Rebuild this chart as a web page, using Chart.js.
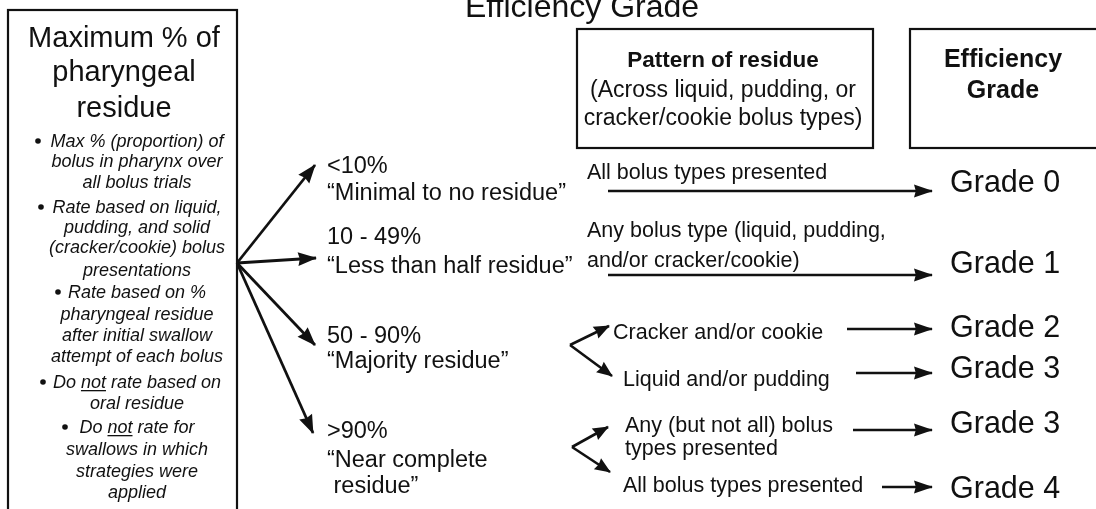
<!DOCTYPE html>
<html>
<head>
<meta charset="utf-8">
<script src="https://cdn.jsdelivr.net/npm/chart.js@4.4.0/dist/chart.umd.min.js"></script>
<style>
  html, body { margin: 0; padding: 0; background: #fff; }
  #wrap { width: 1096px; height: 509px; }
</style>
</head>
<body>
<div id="wrap"><canvas id="flow" width="1096" height="509"></canvas></div>
<script>
// ---- content ----
const title = 'Efficiency Grade';
const headerLines = ['Maximum % of', 'pharyngeal', 'residue'];
// _word_ = underlined
const criteria = [
  ['Max % (proportion) of', 'bolus in pharynx over', 'all bolus trials'],
  ['Rate based on liquid,', 'pudding, and solid', '(cracker/cookie) bolus', 'presentations'],
  ['Rate based on %', 'pharyngeal residue', 'after initial swallow', 'attempt of each bolus'],
  ['Do _not_ rate based on', 'oral residue'],
  ['Do _not_ rate for', 'swallows in which', 'strategies were', 'applied']
];
const levelRanges = ['<10%', '10 - 49%', '50 - 90%', '>90%'];
const levelNames = [
  ['\u201cMinimal to no residue\u201d'],
  ['\u201cLess than half residue\u201d'],
  ['\u201cMajority residue\u201d'],
  ['\u201cNear complete', ' residue\u201d']
];
const patternHeader = ['Pattern of residue', '(Across liquid, pudding, or', 'cracker/cookie bolus types)'];
const gradeHeader = ['Efficiency', 'Grade'];
const patterns = [
  ['All bolus types presented'],
  ['Any bolus type (liquid, pudding,', 'and/or cracker/cookie)'],
  ['Cracker and/or cookie'],
  ['Liquid and/or pudding'],
  ['Any (but not all) bolus', 'types presented'],
  ['All bolus types presented']
];
const patternLevel = [0, 1, 2, 2, 3, 3];
const grades = [0, 1, 2, 3, 3, 4];

// ---- layout (canvas units) ----
const FONT = '"Liberation Sans", Arial, sans-serif';
const INK = '#111';
const layout = {
  title: { x: 582, y: 17 },
  leftBox: [8, 10, 237, 530],
  headerX: 124, headerY: [47, 81, 117],
  critX: 137,
  critBulletX: [35, 38, 55, 40, 62],
  critY: [[147, 167, 188], [213, 233, 253, 276], [298, 320, 341, 362], [388, 409], [433, 455, 477, 498]],
  fanFrom: [237, 263],
  fanTo: [[315, 165], [316, 258], [315, 345], [313, 433]],
  levelX: 327,
  rangeY: [173, 244, 343, 438],
  nameY: [[200], [273], [368], [467, 493]],
  patBox: [577, 29, 873, 148],
  patHeadX: 723, patHeadY: [67, 97, 125],
  gradeBox: [910, 29, 1110, 148],
  gradeHeadX: 1003, gradeHeadY: [67, 98],
  forks: { 2: [570, 345], 3: [572, 447] },
  patX: [587, 587, 613, 623, 625, 623],
  patY: [[179], [237, 267], [339], [386], [432, 455], [492]],
  forkTo: [null, null, [609, 326], [612, 376], [608, 427], [610, 472]],
  arrowFrom: [608, 608, 847, 856, 853, 882],
  arrowY: [191, 275, 329, 373, 430, 487],
  arrowTo: 932,
  gradeX: 950,
  gradeY: [192, 273, 337, 378, 433, 498]
};

// ---- arrows as line datasets ----
const datasets = [];
function arrow(a, b, w, head) {
  datasets.push({
    data: [{ x: a[0], y: a[1] }, { x: b[0], y: b[1] }],
    showLine: true, borderColor: INK, borderWidth: w,
    pointRadius: 0, borderCapStyle: 'butt', head: head
  });
}
layout.fanTo.forEach(t => arrow(layout.fanFrom, t, 2.8, [18, 7]));
patterns.forEach((p, i) => {
  if (layout.forkTo[i]) arrow(layout.forks[patternLevel[i]], layout.forkTo[i], 2.6, [15, 6.5]);
  arrow([layout.arrowFrom[i], layout.arrowY[i]], [layout.arrowTo, layout.arrowY[i]], 2.4, [18, 6.5]);
});

function drawRich(ctx, str, x, y, align) {
  const parts = str.split('_');
  const total = parts.reduce((s, p) => s + ctx.measureText(p).width, 0);
  let cx = align === 'center' ? x - total / 2 : x;
  ctx.textAlign = 'left';
  parts.forEach((p, i) => {
    const w = ctx.measureText(p).width;
    ctx.fillText(p, cx, y);
    if (i % 2 === 1) ctx.fillRect(cx, y + 2, w, 1.3);
    cx += w;
  });
}

const diagramPlugin = {
  id: 'diagram',
  afterDatasetsDraw(chart) {
    const ctx = chart.ctx, sx = chart.scales.x, sy = chart.scales.y;
    const X = v => sx.getPixelForValue(v), Y = v => sy.getPixelForValue(v);
    ctx.save();
    ctx.fillStyle = INK;
    ctx.strokeStyle = INK;
    ctx.textBaseline = 'alphabetic';

    // arrow heads
    chart.data.datasets.forEach((ds, i) => {
      const pts = chart.getDatasetMeta(i).data;
      const a = pts[0], b = pts[1];
      const ang = Math.atan2(b.y - a.y, b.x - a.x);
      const [hl, hw] = ds.head;
      ctx.save();
      ctx.translate(b.x, b.y);
      ctx.rotate(ang);
      ctx.beginPath();
      ctx.moveTo(1, 0);
      ctx.lineTo(-hl, -hw);
      ctx.lineTo(-hl * 0.9, 0);
      ctx.lineTo(-hl, hw);
      ctx.closePath();
      ctx.fill();
      ctx.restore();
    });

    // boxes
    ctx.lineWidth = 2.2;
    [layout.leftBox, layout.patBox, layout.gradeBox].forEach(r => {
      ctx.strokeRect(X(r[0]), Y(r[1]), X(r[2]) - X(r[0]), Y(r[3]) - Y(r[1]));
    });

    // title
    ctx.font = '32px ' + FONT;
    ctx.textAlign = 'center';
    ctx.fillText(title, X(layout.title.x), Y(layout.title.y));

    // left box header
    ctx.font = '29px ' + FONT;
    headerLines.forEach((t, i) => ctx.fillText(t, X(layout.headerX), Y(layout.headerY[i])));

    // criteria bullets
    criteria.forEach((lines, k) => {
      ctx.font = 'italic 18px ' + FONT;
      lines.forEach((t, j) => drawRich(ctx, t, X(layout.critX), Y(layout.critY[k][j]), 'center'));
      ctx.beginPath();
      ctx.arc(X(layout.critBulletX[k] + 3), Y(layout.critY[k][0] - 6), 2.8, 0, Math.PI * 2);
      ctx.fill();
    });

    // levels
    ctx.font = '23.5px ' + FONT;
    ctx.textAlign = 'left';
    levelRanges.forEach((r, i) => {
      ctx.fillText(r, X(layout.levelX), Y(layout.rangeY[i]));
      levelNames[i].forEach((t, j) => ctx.fillText(t, X(layout.levelX), Y(layout.nameY[i][j])));
    });

    // header boxes text
    ctx.textAlign = 'center';
    patternHeader.forEach((t, i) => {
      ctx.font = (i === 0 ? 'bold 22.5px ' : '23px ') + FONT;
      ctx.fillText(t, X(layout.patHeadX), Y(layout.patHeadY[i]));
    });
    ctx.font = 'bold 25px ' + FONT;
    gradeHeader.forEach((t, i) => ctx.fillText(t, X(layout.gradeHeadX), Y(layout.gradeHeadY[i])));

    // patterns and grades
    ctx.textAlign = 'left';
    patterns.forEach((lines, i) => {
      ctx.font = '21.5px ' + FONT;
      lines.forEach((t, j) => ctx.fillText(t, X(layout.patX[i]), Y(layout.patY[i][j])));
      ctx.font = '30.5px ' + FONT;
      ctx.fillText('Grade ' + grades[i], X(layout.gradeX), Y(layout.gradeY[i]));
    });
    ctx.restore();
  }
};

new Chart(document.getElementById('flow'), {
  type: 'scatter',
  data: { datasets: datasets },
  options: {
    responsive: false,
    animation: false,
    events: [],
    layout: { padding: 0 },
    scales: {
      x: { type: 'linear', min: 0, max: 1096, display: false },
      y: { type: 'linear', min: 0, max: 509, reverse: true, display: false }
    },
    plugins: { legend: { display: false }, tooltip: { enabled: false } }
  },
  plugins: [diagramPlugin]
});
</script>
</body>
</html>
